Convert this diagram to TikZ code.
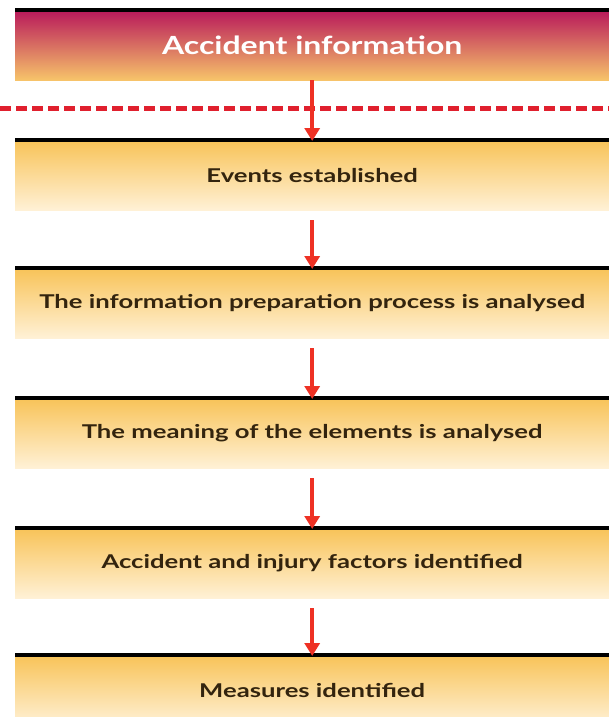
\documentclass[tikz,border=0pt]{standalone}
\usepackage{fontspec}
\setmainfont{Lato}
\newfontfamily\widefont[FakeStretch=1.35]{Lato}
\newfontfamily\headfont[FakeStretch=1.28]{Lato}
\usetikzlibrary{arrows.meta}
\definecolor{magtop}{HTML}{B8185A}
\definecolor{magbot}{HTML}{F7C46A}
\definecolor{yeltop}{HTML}{F8C358}
\definecolor{yelbot}{HTML}{FFF1D6}
\definecolor{txtbrown}{HTML}{33240E}
\definecolor{arrred}{HTML}{EE3124}
\definecolor{dashred}{HTML}{E0202E}
\tikzset{
  x=1pt,y=-1pt,
  stepbox/.style={rectangle, minimum width=594pt, minimum height=70pt, anchor=north west, inner sep=0pt,
    top color=yeltop, bottom color=yelbot, draw=none,
    font=\widefont\fontsize{19}{22}\selectfont\bfseries, text=txtbrown},
  headbox/.style={rectangle, minimum width=594pt, minimum height=70pt, anchor=north west, inner sep=0pt,
    top color=magtop, middle color=magtop!70!magbot, bottom color=magbot, draw=none,
    font=\headfont\fontsize{25}{28}\selectfont\bfseries, text=white},
  topline/.style={line width=4pt, black},
  flow/.style={line width=3.5pt, arrred, -{Triangle[length=13pt,width=15pt]}, shorten >=-1pt},
}
\begin{document}
\begin{tikzpicture}
\useasboundingbox (0,0) rectangle (609,717);
\fill[white] (0,0) rectangle (609,717);
\node[headbox] (h) at (15,10) {Accident information};
\node[stepbox] (s1) at (15,140) {Events established};
\node[stepbox] (s2) at (15,268) {The information preparation process is analysed};
\node[stepbox] (s3) at (15,398) {The meaning of the elements is analysed};
\node[stepbox] (s4) at (15,528) {Accident and injury factors identified};
\node[stepbox] (s5) at (15,655) {Measures identified};
\foreach \n in {h,s1,s2,s3,s4,s5}{
  \draw[topline] (\n.north west) -- (\n.north east);
}
\coordinate (dl) at (0,108);
\coordinate (dr) at (609,108);
\draw[dashred, line width=5pt, dash pattern=on 11pt off 5pt] (dl) -- (dr);
\draw[flow] (h.south) -- (s1.north);
\draw[flow] ([yshift=-10pt]s1.south) -- (s2.north);
\draw[flow] ([yshift=-10pt]s2.south) -- (s3.north);
\draw[flow] ([yshift=-10pt]s3.south) -- (s4.north);
\draw[flow] ([yshift=-10pt]s4.south) -- (s5.north);
\end{tikzpicture}
\end{document}
